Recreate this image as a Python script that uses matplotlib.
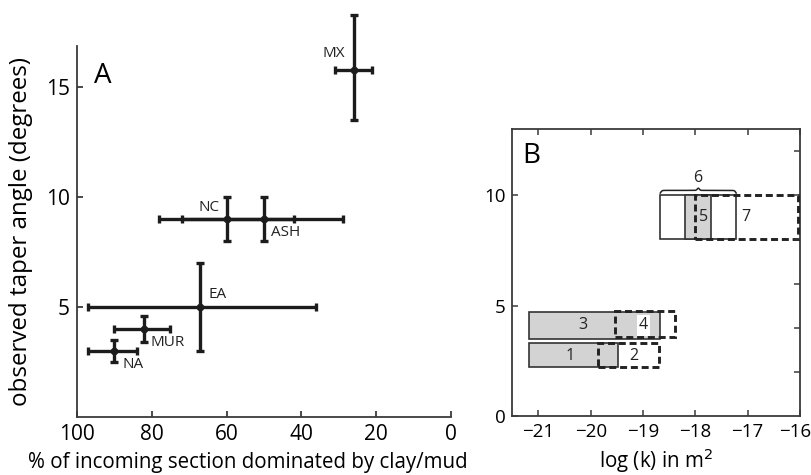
import numpy as np
import matplotlib
matplotlib.use("Agg")
import matplotlib.pyplot as plt
import matplotlib.transforms as mtransforms
from matplotlib.patches import Rectangle

plt.rcParams['font.family'] = ['Open Sans', 'DejaVu Sans']

"""
panel A data: taper angle vs clay/mud fraction
"""
sites = ["MX", "NC", "ASH", "EA", "MUR", "NA"]
clay_pct = [26, 60, 50, 67, 82, 90]
clay_lo = [21, 42, 29, 36, 75, 84]
clay_hi = [31, 78, 72, 97, 90, 97]
taper = [15.8, 9.0, 9.0, 5.0, 4.0, 3.0]
taper_lo = [13.5, 8.0, 8.0, 3.0, 3.4, 2.5]
taper_hi = [18.3, 10.0, 10.0, 7.0, 4.6, 3.5]
# label placement (offset points, alignment)
label_off = [(-6.5, 12), (-5, 8.6), (4.7, -9.4), (5.8, 9.4), (4.8, -9.4), (6, -9.6)]
label_ha = ["right", "right", "left", "left", "left", "left"]

"""
panel B data: permeability ranges
"""
box_ids = ["1", "2", "3", "4", "6", "5", "7"]
box_k_lo = [-21.19, -19.87, -21.19, -19.54, -18.67, -18.19, -18.01]
box_k_hi = [-19.47, -18.69, -18.67, -18.38, -17.22, -17.71, -16.03]
box_t_lo = [2.2, 2.2, 3.48, 3.58, 8.0, 8.0, 8.0]
box_t_hi = [3.32, 3.32, 4.72, 4.76, 10.0, 10.0, 10.0]
box_kind = ["grey", "dash", "grey", "dash", "white", "grey", "dash"]
box_lab_x = [-20.4, -19.17, -20.16, -18.99, -17.96, -17.85, -17.03]
box_lab_y = [2.7, 2.7, 4.1, 4.1, 10.78, 9.0, 9.0]

ink = "#1c1c1c"
spine = "#3a3a3a"

fig = plt.figure(figsize=(8.12, 4.75), dpi=100)

"""
panel A
"""
axA = fig.add_axes([0.0948, 0.1221, 0.4606, 0.7817])
x = np.array(clay_pct)
y = np.array(taper)
xerr = [x - np.minimum(clay_lo, clay_hi), np.maximum(clay_lo, clay_hi) - x]
yerr = [y - np.array(taper_lo), np.array(taper_hi) - y]
eb = axA.errorbar(x, y, xerr=xerr, yerr=yerr, fmt='o', color=ink, ms=4.5,
                  elinewidth=2.4, capsize=2.6, capthick=2.4, zorder=3)
eb.lines[0].set_clip_on(False)
for art in eb.lines[1] + eb.lines[2]:
    art.set_clip_on(False)

for name, px, py, off, ha in zip(sites, clay_pct, taper, label_off, label_ha):
    axA.annotate(name, (px, py), xytext=off, textcoords='offset points',
                 ha=ha, va='center', fontsize=11, color="#222222")

axA.set_xlim(100, 0)
axA.set_ylim(0, 16.9)
axA.set_xticks([100, 80, 60, 40, 20, 0])
axA.set_yticks([5, 10, 15])
axA.spines['top'].set_visible(False)
axA.spines['right'].set_visible(False)
for s in ['left', 'bottom']:
    axA.spines[s].set_color(spine)
    axA.spines[s].set_linewidth(1.3)
axA.tick_params(direction='in', length=4, width=1.3, color=spine, labelsize=15, pad=5)
axA.set_xlabel("% of incoming section dominated by clay/mud", fontsize=14.8)
axA.xaxis.set_label_coords(0.457, -0.095)
axA.set_ylabel("observed taper angle (degrees)", fontsize=17.4)
axA.yaxis.set_label_coords(-0.118, 0.5)
axA.text(0.045, 0.955, "A", transform=axA.transAxes, fontsize=20, va='top', ha='left')

"""
panel B
"""
axB = fig.add_axes([0.6309, 0.1242, 0.3543, 0.6042])
for kind, k0, k1, t0, t1 in zip(box_kind, box_k_lo, box_k_hi, box_t_lo, box_t_hi):
    if kind == "grey":
        r = Rectangle((k0, t0), k1 - k0, t1 - t0, facecolor="#d3d3d3",
                      edgecolor="#333333", lw=1.2, zorder=2)
    elif kind == "white":
        r = Rectangle((k0, t0), k1 - k0, t1 - t0, facecolor="white",
                      edgecolor="#333333", lw=1.2, zorder=1.5)
    else:
        r = Rectangle((k0, t0), k1 - k0, t1 - t0, facecolor="none",
                      edgecolor="#222222", lw=2.1, linestyle=(0, (2.4, 1.3)), zorder=3)
    axB.add_patch(r)

for lab, lx, ly in zip(box_ids, box_lab_x, box_lab_y):
    bbox = None
    if lab == "4":
        bbox = dict(facecolor="white", edgecolor="none", pad=1.5)
    axB.text(lx, ly, lab, ha='center', va='center', fontsize=11.5, color="#222222",
             bbox=bbox, zorder=4)

# curly brace over box 6
i6 = box_ids.index("6")
b0, b1 = box_k_lo[i6], box_k_hi[i6]
base = box_t_hi[i6] + 0.2
u = np.linspace(0, 1, 400)
half = np.where(u < 0.5, u, 1 - u) * 2
h = 0.12 * np.tanh(half * 25) + 0.1 * np.exp(-((u - 0.5) / 0.02) ** 2)
axB.plot(b0 + u * (b1 - b0), base - 0.1 + h, color="#222222", lw=1.1, zorder=3)

axB.set_xlim(-21.5, -16)
axB.set_ylim(0, 13)
axB.set_xticks([-21, -20, -19, -18, -17, -16])
axB.set_yticks([0, 5, 10])
for s in axB.spines.values():
    s.set_color(spine)
    s.set_linewidth(1.3)
axB.tick_params(direction='in', length=4, width=1.1, color=spine, labelsize=13.5,
                top=True, pad=5)
# keep the last tick label inside the figure
last = axB.get_xticklabels()[-1]
last.set_transform(last.get_transform() + mtransforms.ScaledTranslation(-5 / 100, 0, fig.dpi_scale_trans))
axB.set_xlabel("log (k) in m$^2$", fontsize=14.8, labelpad=4)
axB.text(0.035, 0.955, "B", transform=axB.transAxes, fontsize=20, va='top', ha='left')

axB2 = axB.twinx()
axB2.set_ylim(0, 13)
axB2.set_yticks([2, 4, 6, 8, 10, 12])
axB2.tick_params(direction='in', length=4, width=1.1, color=spine, labelright=False)
for s in axB2.spines.values():
    s.set_visible(False)

fig.savefig("out.png", dpi=100)
